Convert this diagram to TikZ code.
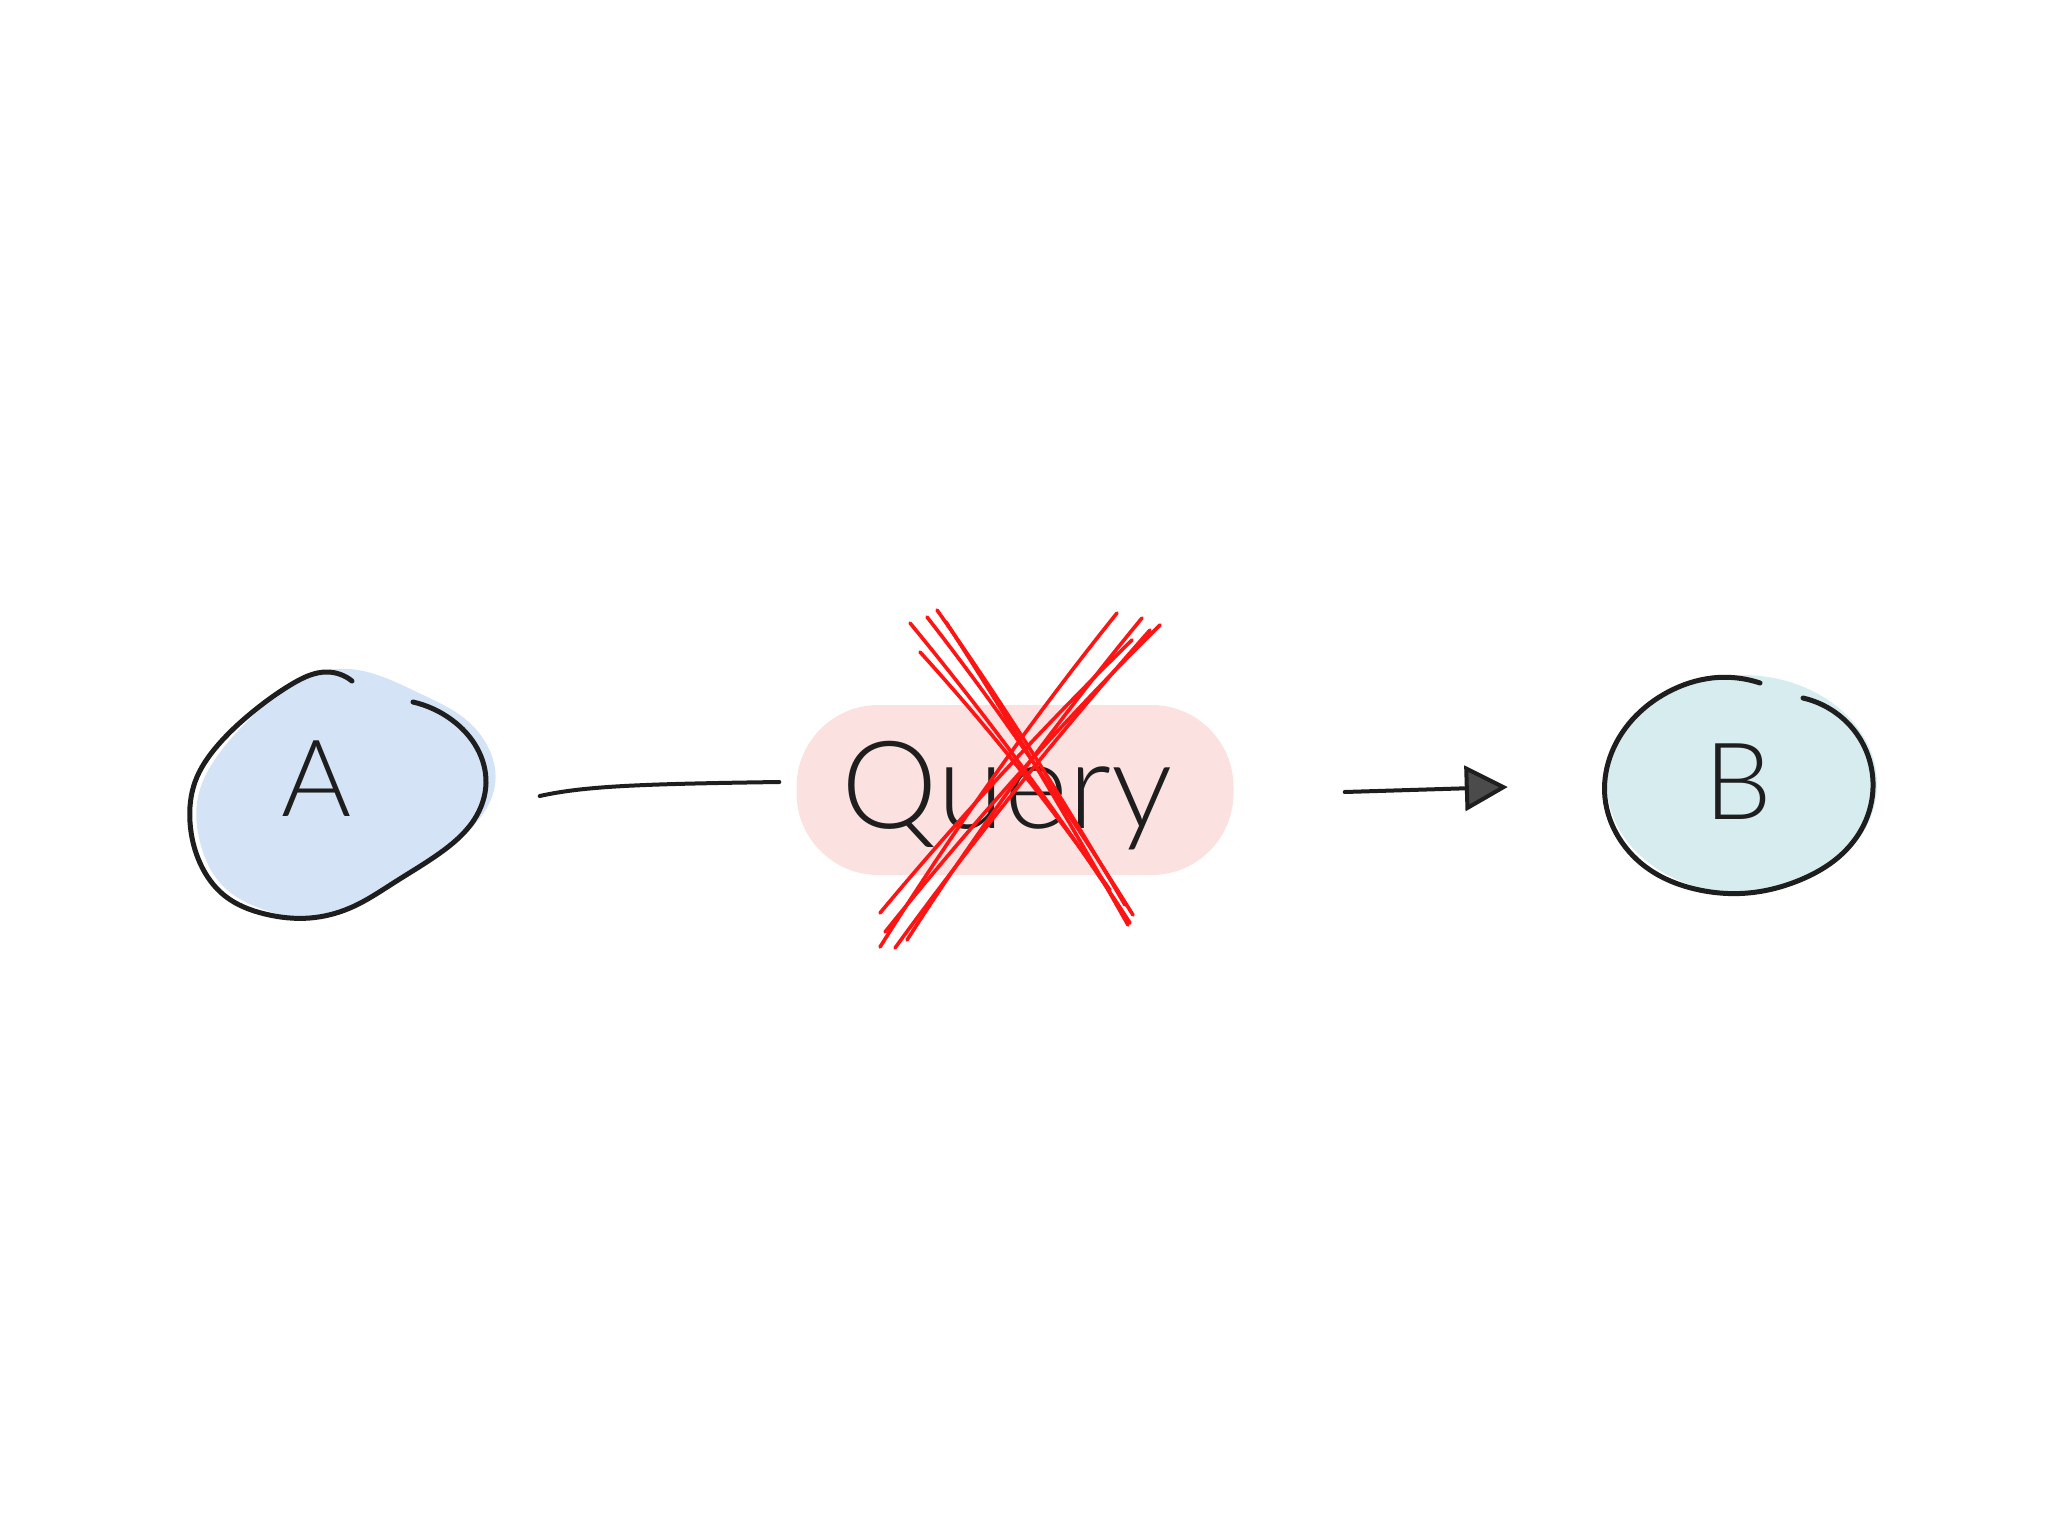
\documentclass[tikz,border=0pt]{standalone}
\usepackage{fontspec}
\setmainfont{Lato}[UprightFont={* Light}]
\usetikzlibrary{calc,arrows.meta,shapes.geometric,hobby}
\definecolor{afill}{HTML}{D4E3F6}
\definecolor{bfill}{HTML}{D7ECEF}
\definecolor{qfill}{HTML}{FCE1E1}
\definecolor{xred}{HTML}{FF1414}
\definecolor{ink}{HTML}{1E1E1E}
\tikzset{
  outline/.style={draw=ink, line width=5pt, line cap=round, line join=round},
  conn/.style={draw=ink, line width=4pt, line cap=round},
  xs/.style={draw=xred, line width=3.6pt, line cap=round},
  hand/.style={text=ink, inner sep=0pt},
}
\begin{document}
\begin{tikzpicture}[x=1pt,y=-1pt]
\useasboundingbox[fill=white] (0,0) rectangle (2048,1536);

% ---- A blob ----
\fill[afill, use Hobby shortcut, closed=true, shift={(6,-3)}]
  (330,672) .. (415,697) .. (458,721) .. (483,752) .. (489,788) .. (470,826) .. (430,860) .. (380,892) .. (320,920) .. (262,914) .. (216,888) .. (194,845) .. (192,800) .. (212,758) .. (250,716) .. (292,684);
\draw[outline, use Hobby shortcut]
  (413,702) .. (452,720) .. (477,748) .. (486,783) .. (474,820) .. (440,853) .. (395,882) .. (350,908) .. (310,918) .. (265,914) .. (225,896) .. (200,863) .. (190,822) .. (195,782) .. (218,745) .. (255,710) .. (292,684) .. (327,672) .. (352,681);
\node[ellipse, minimum width=295pt, minimum height=245pt, hand, font=\fontsize{107}{107}\selectfont] (A) at (317,779) {A};

% ---- Query pill ----
\node[rounded corners=82pt, fill=qfill, minimum width=437pt, minimum height=170pt, inner sep=0pt] (Q) at (1015,790) {};
\node[hand, anchor=base, font=\fontsize{122}{122}\selectfont] (qtext) at (1007,828) {Query};

% ---- B blob ----
\fill[bfill] (1742,784) ellipse [x radius=135pt, y radius=109pt];
\draw[outline, use Hobby shortcut]
  (1803,698) .. (1840,716) .. (1864,746) .. (1873,782) .. (1866,820) .. (1842,854) .. (1800,880) .. (1748,893) .. (1695,889) .. (1650,870) .. (1619,838) .. (1605,798) .. (1610,757) .. (1632,720) .. (1668,692) .. (1712,678) .. (1760,683);
\node[ellipse, minimum width=266pt, minimum height=218pt, hand, font=\fontsize{107}{107}\selectfont] (B) at (1738,782) {B};

% ---- connectors ----
\draw[conn] ($(A.east)+(75,17)$) .. controls (585,786) and (640,784) .. ($(Q.west)+(-17,-8)$);
\draw[conn, -{Triangle[length=43pt, width=45pt, fill=ink!80, line width=4pt]}] ($(Q.east)+(111,2)$) -- ($(B.west)+(-97,5)$);

% ---- red cross ----
\draw[xs] (910,623) .. controls (989,719) and (1063,819) .. (1130,923);
\draw[xs] (927,617) .. controls (1001,712) and (1069,812) .. (1133,915);
\draw[xs] (937,610) .. controls (1004,705) and (1066,804) .. (1125,905);
\draw[xs] (920,652) .. controls (988,727) and (1052,807) .. (1110,890);
\draw[xs] (946,622) .. controls (1010,721) and (1070,822) .. (1128,925);
\draw[xs] (1117,613) .. controls (1032,719) and (953,831) .. (880,947);
\draw[xs] (1142,618) .. controls (1058,720) and (979,828) .. (907,940);
\draw[xs] (1160,625) .. controls (1062,722) and (971,825) .. (885,932);
\draw[xs] (1132,640) .. controls (1043,727) and (959,818) .. (880,913);
\draw[xs] (1150,630) .. controls (1060,732) and (975,838) .. (895,948);
\end{tikzpicture}
\end{document}
